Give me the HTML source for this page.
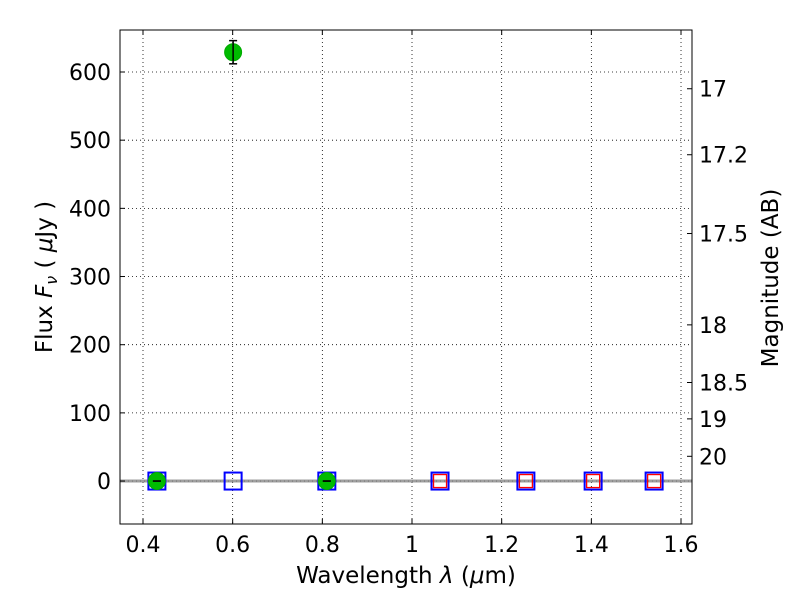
<!DOCTYPE html>
<html><head><meta charset="utf-8"><style>
body{margin:0;background:#fff;}
svg text{font-family:"DejaVu Sans","Liberation Sans",sans-serif;}
</style></head><body>
<svg id="chart" width="800" height="600" xmlns="http://www.w3.org/2000/svg">
<rect width="800" height="600" fill="#fff"/>
<g id="grid"></g>
<g id="marks"></g>
<rect x="120" y="30" width="572" height="494" fill="none" stroke="#000" stroke-width="1"/>
<g id="axes"></g>
<text x="406" y="583" font-size="23" text-anchor="middle">Wavelength  <tspan font-style="italic">λ</tspan> (<tspan font-style="italic">μ</tspan>m)</text>
<text transform="translate(52,277) rotate(-90)" font-size="23" text-anchor="middle">Flux  <tspan font-style="italic">F<tspan font-size="16" dy="5">ν</tspan></tspan><tspan dy="-5">  ( </tspan><tspan font-style="italic">μ</tspan>Jy )</text>
<text transform="translate(778,278) rotate(-90)" font-size="23" text-anchor="middle">Magnitude (AB)</text>
</svg>
<script>
const xTicks=[0.4,0.6,0.8,1,1.2,1.4,1.6];
const yTicks=[0,100,200,300,400,500,600];
const magTicks=[17,17.2,17.5,18,18.5,19,20];
const bandWl=[0.431,0.601,0.810,1.0625,1.254,1.404,1.540];
const greenWl=[0.431,0.601,0.810];
const greenFlux=[0,629,0];
const greenErr=[0,17,0];
const redWl=[1.0625,1.254,1.404,1.540];
const redFlux=[0,0,0,0];
const bandFlux=[0,0,0,0,0,0,0];
const X0=120,X1=692,Y0=524,Y1=30,xmin=0.3487,xmax=1.6245,ymin=-63,ymax=661.6;
const sx=v=>X0+(v-xmin)/(xmax-xmin)*(X1-X0);
const sy=v=>Y0-(v-ymin)/(ymax-ymin)*(Y0-Y1);
const NS="http://www.w3.org/2000/svg";
function mk(tag,attrs,parent){const e=document.createElementNS(NS,tag);for(const k in attrs)e.setAttribute(k,attrs[k]);document.getElementById(parent).appendChild(e);return e;}
xTicks.forEach(t=>{const x=sx(t);
 const g=mk('line',{x1:x,x2:x,y1:Y1,y2:Y0,stroke:'#000','stroke-dasharray':'1,3','stroke-width':0.8},'grid');
 
 
 mk('line',{x1:x,x2:x,y1:Y0,y2:Y0-5,stroke:'#000'},'axes');
 mk('line',{x1:x,x2:x,y1:Y1,y2:Y1+5,stroke:'#000'},'axes');
 const l=mk('text',{x:x,y:Y0+28,'font-size':22,'text-anchor':'middle'},'axes');l.textContent=String(t);
 
 });
yTicks.forEach(t=>{const y=sy(t);
 const g=mk('line',{x1:X0,x2:X1,y1:y,y2:y,stroke:'#000','stroke-dasharray':'1,3','stroke-width':0.8},'grid');
 
 
 mk('line',{x1:X0,x2:X0+5,y1:y,y2:y,stroke:'#000'},'axes');
 const l=mk('text',{x:X0-9,y:y+8,'font-size':22,'text-anchor':'end'},'axes');l.textContent=String(t);
 
 });
magTicks.forEach(m=>{const f=Math.pow(10,(23.9-m)/2.5);const y=sy(f);
 mk('line',{x1:X1,x2:X1-5,y1:y,y2:y,stroke:'#000'},'axes');
 const l=mk('text',{x:X1+7,y:y+8,'font-size':22},'axes');l.textContent=String(m);
 
 });
const zl=mk('line',{x1:X0,x2:X1,y1:sy(0),y2:sy(0),stroke:'#888','stroke-width':3,opacity:0.8},'marks');


bandWl.forEach((w,i)=>{const x=sx(w),y=sy(bandFlux[i]);
 const r=mk('rect',{x:x-8.5,y:y-8.5,width:17,height:17,fill:'none',stroke:'#00f','stroke-width':2},'marks');
 
 });
redWl.forEach((w,i)=>{const x=sx(w),y=sy(redFlux[i]);
 const r=mk('rect',{x:x-6.5,y:y-6.5,width:13,height:13,fill:'none',stroke:'#f00','stroke-width':1.3},'marks');
 
 });
greenWl.forEach((w,i)=>{const x=sx(w),y=sy(greenFlux[i]);const e=greenErr[i];
 const c=mk('circle',{cx:x,cy:y,r:8.5,fill:'#00bb00',stroke:'#00aa00'},'marks');
 
 
 const ya=sy(greenFlux[i]+e),yb=sy(greenFlux[i]-e);
 mk('line',{x1:x,x2:x,y1:ya,y2:yb,stroke:'#000','stroke-width':1.5},'marks');
 mk('line',{x1:x-4,x2:x+4,y1:ya,y2:ya,stroke:'#000','stroke-width':1.5},'marks');
 mk('line',{x1:x-4,x2:x+4,y1:yb,y2:yb,stroke:'#000','stroke-width':1.5},'marks');});
</script>
</body></html>
